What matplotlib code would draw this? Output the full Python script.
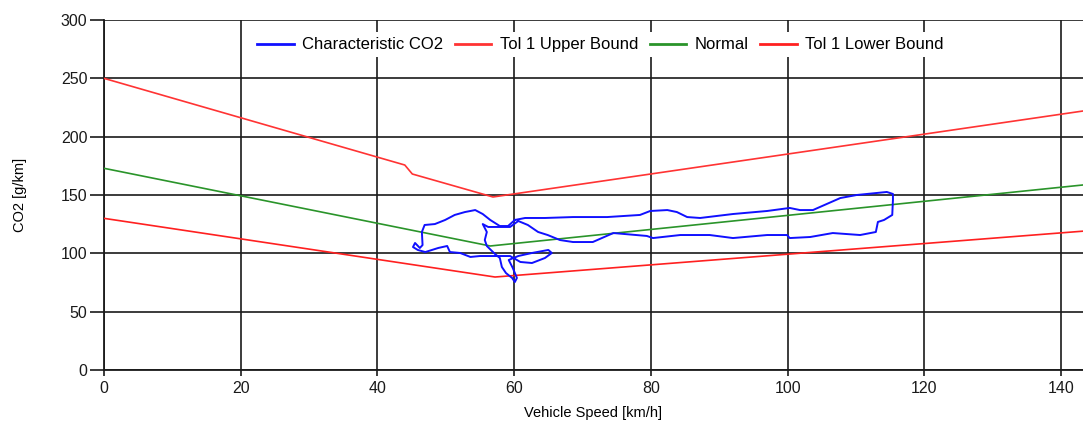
import matplotlib
matplotlib.use("Agg")
import matplotlib.pyplot as plt

plt.rcParams['font.family'] = ['Liberation Sans', 'DejaVu Sans']

# Curvas de referencia (velocidad km/h, CO2 g/km)
normal_x = [0, 56.5, 143.2]
normal_y = [172.9, 106.3, 158.6]

upper_x = [0, 44.0, 45.1, 56.9, 143.2]
upper_y = [250.0, 175.7, 168.0, 148.3, 222.0]

lower_x = [0, 57.2, 143.2]
lower_y = [130.0, 79.7, 119.0]

# Traza caracteristica medida
co2_speed = [60.1, 61.6, 64.5, 68.6, 73.6, 78.4, 79.9, 82.4, 83.8, 85.3, 87.2,
             92.0, 97.0, 100.3, 101.8, 103.7, 107.7, 110.1, 114.5, 115.4, 115.4,
             115.3, 114.1, 113.2, 112.9, 110.6, 106.6, 103.3, 100.3, 99.9, 97.0,
             92.0, 88.6, 84.3, 80.3, 79.4, 74.5, 71.5, 68.6, 66.7, 64.9, 63.5,
             62.0, 60.6,
             59.4, 57.9, 56.2, 55.4, 56.0, 55.7, 56.0, 57.2, 57.9, 58.2, 58.8,
             59.7, 60.1, 60.4, 59.8, 59.2, 60.6, 62.6, 65.0, 65.5, 64.5, 62.6,
             60.9, 59.4, 57.2, 55.0, 53.6, 52.1, 50.6, 50.2, 48.9, 47.0, 45.9,
             45.2, 45.5, 46.2, 46.6, 46.5, 46.9, 48.4, 49.9, 51.3, 52.8, 54.3,
             55.4, 56.5, 57.9, 59.1, 60.1]
co2_value = [128.6, 130.3, 130.3, 131.1, 131.1, 132.9, 136.3, 137.1, 135.4, 131.1, 130.3,
             133.7, 136.3, 138.9, 137.1, 137.1, 147.4, 150.0, 152.6, 150.9, 145.7,
             132.9, 128.6, 126.9, 118.3, 115.7, 117.4, 114.0, 113.1, 115.7, 115.7,
             113.1, 115.7, 115.7, 113.1, 114.9, 117.4, 109.7, 109.7, 111.4, 115.7, 118.3,
             124.3, 127.7,
             122.6, 122.6, 122.6, 125.1, 118.3, 111.4, 106.3, 99.4, 96.0, 88.3, 83.1,
             78.9, 75.4, 78.9, 87.4, 94.3, 97.7, 100.3, 102.9, 100.3, 96.0, 91.7,
             92.6, 97.7, 97.7, 97.7, 96.9, 100.3, 101.1, 106.3, 104.6, 101.1, 102.9,
             105.4, 108.9, 104.6, 107.1, 118.3, 124.3, 125.1, 128.6, 132.9, 135.4, 137.1,
             133.7, 128.6, 123.4, 123.4, 128.6]

fig = plt.figure(figsize=(10.83, 4.23), dpi=100)
ax = fig.add_axes([0.096, 0.1253, 0.904, 0.8274])

ax.plot(co2_speed, co2_value, color='#1010ff', lw=1.4, label='Characteristic CO2', zorder=4)
ax.plot(upper_x, upper_y, color='#ff3333', lw=1.2, label='Tol 1 Upper Bound', zorder=3)
ax.plot(normal_x, normal_y, color='#2a942a', lw=1.2, label='Normal', zorder=3)
ax.plot(lower_x, lower_y, color='#ff2020', lw=1.2, label='Tol 1 Lower Bound', zorder=3)

ax.set_xlim(0, 143.2)
ax.set_ylim(0, 300)
ax.set_xticks(range(0, 141, 20))
ax.set_yticks(range(0, 301, 50))
ax.grid(True, color='#1a1a1a', lw=1.2)
ax.set_axisbelow(True)

for s in ['top', 'right']:
    ax.spines[s].set_visible(False)
for s in ['left', 'bottom']:
    ax.spines[s].set_linewidth(1.3)
    ax.spines[s].set_color('#1a1a1a')

ax.tick_params(axis='y', length=10, width=1.2, labelsize=11.5, colors='#1a1a1a', pad=2)
ax.tick_params(axis='x', length=4, width=1.2, labelsize=11.5, colors='#1a1a1a', pad=4)

ax.set_ylabel('CO2 [g/km]', fontsize=10.5, labelpad=24)
ax.set_xlabel('Vehicle Speed [km/h]', fontsize=10.5, labelpad=7)

leg = ax.legend(loc='center', bbox_to_anchor=(0.507, 0.929), ncol=4, frameon=True,
                fontsize=12, handlelength=2.2, columnspacing=0.7, handletextpad=0.5,
                borderpad=0.3)
leg.get_frame().set_edgecolor('none')
leg.get_frame().set_facecolor('white')
leg.get_frame().set_alpha(1)
for h in leg.get_lines():
    h.set_linewidth(2)

fig.savefig('out.png', dpi=100)
